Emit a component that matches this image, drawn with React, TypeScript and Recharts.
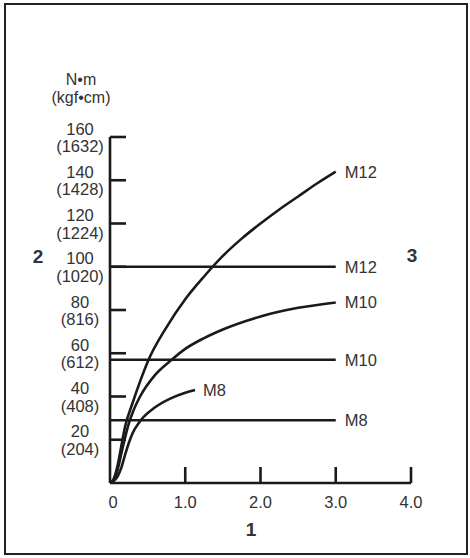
import React from 'react';
import { LineChart, Line, XAxis, YAxis, Customized } from 'recharts';

// ---- tick values & labels ----
const xTicks = [0, 1, 2, 3, 4];
const xTickLabels = ['0', '1.0', '2.0', '3.0', '4.0'];
const yTicks = [20, 40, 60, 80, 100, 120, 140, 160];
const yTickKgf = ['(204)', '(408)', '(612)', '(816)', '(1020)', '(1224)', '(1428)', '(1632)'];

// ---- curves ----
const m12CurveX = [0, 0.05, 0.1, 0.15, 0.2, 0.3, 0.4, 0.5, 0.75, 1.0, 1.25, 1.5, 1.75, 2.0, 2.25, 2.5, 2.75, 3.0];
const m12CurveY = [0, 2, 8, 17, 26, 37, 47, 56, 72, 85, 95.5, 105, 113, 120, 126.5, 132.5, 138.5, 144];
const m10CurveX = [0, 0.05, 0.1, 0.15, 0.2, 0.25, 0.3, 0.4, 0.6, 0.82, 1.0, 1.25, 1.5, 2.0, 2.5, 3.0];
const m10CurveY = [0, 1.5, 6, 13.5, 21, 27.5, 32.5, 40, 50, 57, 62, 67, 71, 77, 81, 83.5];
const m8CurveX = [0, 0.05, 0.1, 0.15, 0.2, 0.25, 0.3, 0.4, 0.6, 0.8, 1.0, 1.13];
const m8CurveY = [0, 1, 3, 7, 13, 18.5, 23, 28.6, 35, 39, 41.7, 43];

// ---- horizontal (constant) lines ----
const flatX = [0, 3];
const m12Flat = 100;
const m10Flat = 57;
const m8Flat = 29;

const seriesLabels = ['M12', 'M10', 'M8'];

const toPts = (xs: number[], ys: number[]) => xs.map((x, i) => ({ x, y: ys[i] }));
const flatPts = (v: number) => flatX.map((x) => ({ x, y: v }));

const m12Curve = toPts(m12CurveX, m12CurveY);
const m10Curve = toPts(m10CurveX, m10CurveY);
const m8Curve = toPts(m8CurveX, m8CurveY);

const FONT = '"Liberation Sans", Arial, sans-serif';
const INK = '#1a1a1a';
const TXT = '#333333';

const YTick = (props: any) => {
  const { x, y, payload } = props;
  const i = yTicks.indexOf(payload.value);
  return (
    <g>
      <line x1={x} x2={x + 16} y1={y} y2={y} stroke={INK} strokeWidth={2.6} />
      <text x={x - 30} y={y - 8.5} textAnchor="middle" dominantBaseline="central" fontFamily={FONT} fontSize={16.5} fill={TXT}>
        {payload.value}
      </text>
      <text x={x - 30} y={y + 9} textAnchor="middle" dominantBaseline="central" fontFamily={FONT} fontSize={16.5} fill={TXT}>
        {yTickKgf[i]}
      </text>
    </g>
  );
};

const XTick = (props: any) => {
  const { x, y, payload } = props;
  const i = xTicks.indexOf(payload.value);
  return (
    <g>
      {payload.value > 0 && <line x1={x} x2={x} y1={y} y2={y - 16} stroke={INK} strokeWidth={2.6} />}
      <text x={payload.value === 0 ? x + 3 : x} y={y + 19} textAnchor="middle" dominantBaseline="central" fontFamily={FONT} fontSize={16.5} fill={TXT}>
        {xTickLabels[i]}
      </text>
    </g>
  );
};

const endLabel = (text: string, lastIndex: number, dx: number) => (p: any) => {
  if (p.index !== lastIndex) return <g key={p.index} />;
  return (
    <text key={p.index} x={p.x + dx} y={p.y} dominantBaseline="central" textAnchor="start" fontFamily={FONT} fontSize={16.5} fill={TXT}>
      {text}
    </text>
  );
};

const Annotations = () => (
  <g fontFamily={FONT} fill={TXT}>
    <text x={81} y={79.5} textAnchor="middle" dominantBaseline="central" fontSize={16}>N•m</text>
    <text x={81} y={97} textAnchor="middle" dominantBaseline="central" fontSize={16}>(kgf•cm)</text>
    <text x={38} y={256.5} textAnchor="middle" dominantBaseline="central" fontSize={19} fontWeight="bold">2</text>
    <text x={412} y={255.5} textAnchor="middle" dominantBaseline="central" fontSize={19} fontWeight="bold">3</text>
    <text x={251} y={529} textAnchor="middle" dominantBaseline="central" fontSize={19} fontWeight="bold">1</text>
  </g>
);

export default function App() {
  return (
    <div style={{ position: 'absolute', left: 0, top: 0, width: 470, height: 558, background: '#fff' }}>
      <div
        style={{
          position: 'absolute',
          left: 4,
          top: 3,
          width: 464,
          height: 551.5,
          border: '2.7px solid #222',
          boxSizing: 'border-box',
        }}
      />
      <div style={{ position: 'absolute', left: 0, top: 0 }}>
        <LineChart width={470} height={558} margin={{ top: 137, right: 59, bottom: 74, left: 109 }}>
          <XAxis
            type="number"
            dataKey="x"
            domain={[0, 4]}
            ticks={xTicks}
            interval={0}
            height={1}
            tickSize={0}
            tickMargin={0}
            tickLine={false}
            axisLine={{ stroke: INK, strokeWidth: 2.6 }}
            tick={<XTick />}
            allowDataOverflow
          />
          <YAxis
            type="number"
            dataKey="y"
            domain={[0, 160]}
            ticks={yTicks}
            interval={0}
            width={1}
            tickSize={0}
            tickMargin={0}
            tickLine={false}
            axisLine={{ stroke: INK, strokeWidth: 2.6 }}
            tick={<YTick />}
            allowDataOverflow
          />
          <Line data={m12Curve} dataKey="y" type="monotone" stroke={INK} strokeWidth={2.6} dot={false} isAnimationActive={false} label={endLabel(seriesLabels[0], m12Curve.length - 1, 9)} />
          <Line data={m10Curve} dataKey="y" type="monotone" stroke={INK} strokeWidth={2.6} dot={false} isAnimationActive={false} label={endLabel(seriesLabels[1], m10Curve.length - 1, 9)} />
          <Line data={m8Curve} dataKey="y" type="monotone" stroke={INK} strokeWidth={2.6} dot={false} isAnimationActive={false} label={endLabel(seriesLabels[2], m8Curve.length - 1, 8)} />
          <Line data={flatPts(m12Flat)} dataKey="y" type="linear" stroke={INK} strokeWidth={2.6} dot={false} isAnimationActive={false} label={endLabel(seriesLabels[0], 1, 9)} />
          <Line data={flatPts(m10Flat)} dataKey="y" type="linear" stroke={INK} strokeWidth={2.6} dot={false} isAnimationActive={false} label={endLabel(seriesLabels[1], 1, 9)} />
          <Line data={flatPts(m8Flat)} dataKey="y" type="linear" stroke={INK} strokeWidth={2.6} dot={false} isAnimationActive={false} label={endLabel(seriesLabels[2], 1, 9)} />
          <Customized component={Annotations} />
        </LineChart>
      </div>
    </div>
  );
}
